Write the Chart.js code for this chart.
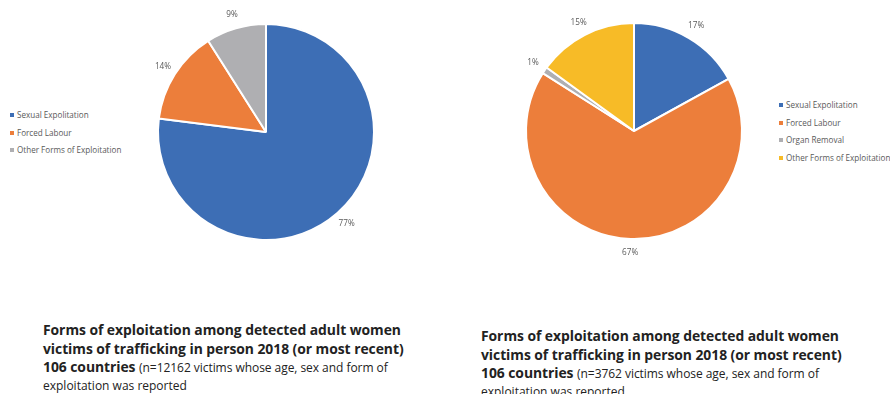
<!DOCTYPE html>
<html>
<head>
<meta charset="utf-8">
<script src="https://cdn.jsdelivr.net/npm/chart.js@4"></script>
<style>
  body { margin: 0; width: 890px; height: 394px; background: #fff; position: relative; overflow: hidden; font-family: "Open Sans", sans-serif; }
  canvas { position: absolute; }
  .legend { position: absolute; font-size: 8.1px; color: #595959; }
  .legend div { height: 17.7px; line-height: 17.7px; white-space: nowrap; }
  .legend span.sw { display: inline-block; width: 4px; height: 4px; margin-right: 3px; vertical-align: middle; position: relative; top: -1px; }
  .caption { position: absolute; color: #222; width: 420px; }
  .caption .t { font-weight: bold; font-size: 13.9px; line-height: 18.5px; letter-spacing: -0.05px; }
  .caption .n { font-size: 12px; font-weight: normal; }
  .caption .r { font-size: 12px; line-height: 16px; }
</style>
</head>
<body>
<canvas id="pieLeft" width="260" height="260" style="left:136px;top:2px;"></canvas>
<canvas id="pieRight" width="260" height="260" style="left:504px;top:1px;"></canvas>
<div class="legend" id="legendLeft" style="left:10px;top:106px;"></div>
<div class="legend" id="legendRight" style="left:779px;top:96px;"></div>

<div class="caption" style="left:43px;top:321px;">
  <div class="t">Forms of exploitation among detected adult women</div>
  <div class="t">victims of trafficking in person 2018 (or most recent)</div>
  <div class="t">106 countries <span class="n">(n=12162 victims whose age, sex and form of</span></div>
  <div class="r">exploitation was reported</div>
</div>
<div class="caption" style="left:481px;top:327px;">
  <div class="t">Forms of exploitation among detected adult women</div>
  <div class="t">victims of trafficking in person 2018 (or most recent)</div>
  <div class="t">106 countries <span class="n">(n=3762 victims whose age, sex and form of</span></div>
  <div class="r">exploitation was reported</div>
</div>

<script>
// données
const leftLabels = ['Sexual Expolitation', 'Forced Labour', 'Other Forms of Exploitation'];
const leftValues = [77, 14, 9];
const leftColors = ['#3d6eb5', '#ec7e3b', '#afafb2'];

const rightLabels = ['Sexual Expolitation', 'Forced Labour', 'Organ Removal', 'Other Forms of Exploitation'];
const rightValues = [17, 67, 1, 15];
const rightColors = ['#3d6eb5', '#ec7e3b', '#afafb2', '#f7bb27'];

// étiquettes en pourcentage autour du camembert
const percentLabels = {
    id: 'percentLabels',
    afterDatasetsDraw(chart) {
        const ctx = chart.ctx;
        const meta = chart.getDatasetMeta(0);
        const data = chart.data.datasets[0].data;
        ctx.save();
        ctx.font = '8.2px "Open Sans", sans-serif';
        ctx.fillStyle = '#595959';
        ctx.textAlign = 'center';
        ctx.textBaseline = 'middle';
        meta.data.forEach((arc, i) => {
            const mid = (arc.startAngle + arc.endAngle) / 2;
            const r = arc.outerRadius + 14;
            ctx.fillText(data[i] + '%', arc.x + Math.cos(mid) * r, arc.y + Math.sin(mid) * r);
        });
        ctx.restore();
    }
};

function makePie(id, labels, values, colors) {
    return new Chart(document.getElementById(id), {
        type: 'pie',
        data: {
            labels: labels,
            datasets: [{
                data: values,
                backgroundColor: colors,
                borderColor: '#ffffff',
                borderWidth: 2
            }]
        },
        options: {
            responsive: false,
            animation: false,
            layout: { padding: 21 },
            plugins: {
                legend: { display: false },
                tooltip: { enabled: false }
            }
        },
        plugins: [percentLabels]
    });
}

function makeLegend(id, labels, colors) {
    const box = document.getElementById(id);
    labels.forEach((lab, i) => {
        const row = document.createElement('div');
        row.innerHTML = '<span class="sw" style="background:' + colors[i] + '"></span>' + lab;
        box.appendChild(row);
    });
}

makePie('pieLeft', leftLabels, leftValues, leftColors);
makePie('pieRight', rightLabels, rightValues, rightColors);
makeLegend('legendLeft', leftLabels, leftColors);
makeLegend('legendRight', rightLabels, rightColors);
</script>
</body>
</html>
